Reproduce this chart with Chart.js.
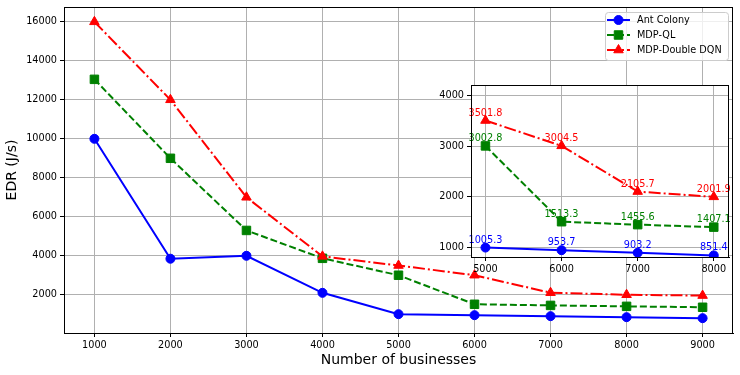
<!DOCTYPE html>
<html>
<head>
<meta charset="utf-8">
<script src="https://cdn.jsdelivr.net/npm/chart.js@4.4.1/dist/chart.umd.min.js"></script>
<style>
    html, body { margin: 0; padding: 0; background: #fff; }
    #wrap { position: relative; width: 740px; height: 375px; }
    #mainChart { position: absolute; left: 0; top: 0; }
    #insetChart { position: absolute; left: 420px; top: 78px; }
</style>
</head>
<body>
<div id="wrap">
    <canvas id="mainChart" width="740" height="375"></canvas>
    <canvas id="insetChart" width="320" height="200"></canvas>
</div>
<script>
// values
const businesses = [1000, 2000, 3000, 4000, 5000, 6000, 7000, 8000, 9000];
const antColony = [10000, 3850, 4000, 2100, 1005.3, 953.7, 903.2, 851.4, 800];
const mdpQL = [13050, 9000, 5300, 3870, 3002.8, 1513.3, 1455.6, 1407.1, 1360];
const mdpDoubleDQN = [16000, 12000, 7000, 3970, 3501.8, 3004.5, 2105.7, 2001.9, 1960];

const xTicks = [1000, 2000, 3000, 4000, 5000, 6000, 7000, 8000, 9000];
const yTicks = [2000, 4000, 6000, 8000, 10000, 12000, 14000, 16000];
const insetXTicks = [5000, 6000, 7000, 8000];
const insetYTicks = [1000, 2000, 3000, 4000];
const insetFrom = 5000;
const insetTo = 8000;

const FONT = '"DejaVu Sans"';
Chart.defaults.font.family = FONT;
Chart.defaults.color = '#000';

const series = [
    { label: 'Ant Colony', values: antColony, color: '#0000ff', dash: [], marker: 'circle', radius: 4.5, order: 2 },
    { label: 'MDP-QL', values: mdpQL, color: '#008000', dash: [7, 3], marker: 'rect', radius: 6, order: 1 },
    { label: 'MDP-Double DQN', values: mdpDoubleDQN, color: '#ff0000', dash: [12, 3, 2, 3], marker: 'triangle', radius: 5.5, order: 0 }
];

function buildDatasets(from, to) {
    return series.map(s => ({
        label: s.label,
        data: businesses.map((x, i) => ({ x: x, y: s.values[i] })).filter(p => p.x >= from && p.x <= to),
        borderColor: s.color,
        backgroundColor: s.color,
        borderWidth: 2,
        borderDash: s.dash,
        pointStyle: s.marker,
        pointRadius: s.radius,
        pointBorderWidth: 1,
        pointBackgroundColor: s.color,
        pointBorderColor: s.color,
        fill: false,
        tension: 0,
        order: s.order
    }));
}

function drawMarker(ctx, style, x, y, r) {
    ctx.beginPath();
    if (style === 'circle') {
        ctx.arc(x, y, r, 0, Math.PI * 2);
    } else if (style === 'rect') {
        const s = r * Math.SQRT1_2;
        ctx.rect(x - s, y - s, 2 * s, 2 * s);
    } else {
        ctx.moveTo(x, y - r);
        ctx.lineTo(x + r * Math.cos(Math.PI / 6), y + r / 2);
        ctx.lineTo(x - r * Math.cos(Math.PI / 6), y + r / 2);
        ctx.closePath();
    }
    ctx.fill();
    ctx.stroke();
}

function axis(min, max, tickValues, fitSize, horizontal, titleText) {
    const opts = {
        type: 'linear',
        min: min,
        max: max,
        afterBuildTicks: scale => { scale.ticks = tickValues.map(v => ({ value: v })); },
        afterFit: scale => {
            if (horizontal) scale.height = fitSize; else scale.width = fitSize;
            // labels never reach the edges, so no extra room is needed
            scale.paddingTop = 0;
            scale.paddingBottom = 0;
            scale.paddingLeft = 0;
            scale.paddingRight = 0;
        },
        grid: { color: '#b0b0b0', lineWidth: 1, drawTicks: true, tickLength: 4, tickColor: '#000', tickWidth: 1 },
        border: { display: true, color: '#000', width: 1 },
        ticks: {
            color: '#000',
            font: { family: FONT, size: 9.7 },
            padding: 3,
            maxRotation: 0,
            autoSkip: false,
            callback: v => String(v)
        }
    };
    if (titleText) {
        opts.title = {
            display: true,
            text: titleText,
            color: '#000',
            font: { family: FONT, size: 14 },
            padding: horizontal ? { top: 0, bottom: 6 } : { top: 4, bottom: 0 }
        };
    }
    return opts;
}

const frameBox = {
    id: 'frameBox',
    beforeDraw(chart) {
        const a = chart.chartArea;
        const ctx = chart.ctx;
        ctx.save();
        ctx.fillStyle = '#fff';
        ctx.fillRect(a.left, a.top, a.right - a.left, a.bottom - a.top);
        ctx.restore();
    },
    afterDraw(chart) {
        const a = chart.chartArea;
        const ctx = chart.ctx;
        ctx.save();
        ctx.strokeStyle = '#000';
        ctx.lineWidth = 1;
        const l = Math.round(a.left) + 0.5, t = Math.round(a.top) + 0.5;
        const r = Math.round(a.right) - 0.5, b = Math.round(a.bottom) + 0.5;
        ctx.strokeRect(l, t, r - l, b - t);
        ctx.restore();
    }
};

const boxLegend = {
    id: 'boxLegend',
    afterDraw(chart) {
        const a = chart.chartArea;
        const ctx = chart.ctx;
        const w = 123, h = 48;
        const x0 = a.right - 5 - w, y0 = a.top + 5;
        ctx.save();
        ctx.beginPath();
        ctx.roundRect(x0 + 0.5, y0 + 0.5, w, h, 3);
        ctx.fillStyle = 'rgba(255,255,255,0.8)';
        ctx.fill();
        ctx.strokeStyle = '#cccccc';
        ctx.lineWidth = 1;
        ctx.stroke();
        ctx.font = '9.7px ' + FONT;
        ctx.textBaseline = 'middle';
        chart.data.datasets.forEach((ds, i) => {
            const y = y0 + 8 + i * 15;
            ctx.strokeStyle = ds.borderColor;
            ctx.lineWidth = ds.borderWidth;
            ctx.setLineDash(ds.borderDash);
            ctx.beginPath();
            ctx.moveTo(x0 + 2, y);
            ctx.lineTo(x0 + 25, y);
            ctx.stroke();
            ctx.setLineDash([]);
            ctx.lineWidth = 1;
            ctx.fillStyle = ds.pointBackgroundColor;
            drawMarker(ctx, ds.pointStyle, x0 + 13.5, y, ds.pointRadius);
            ctx.fillStyle = '#000';
            ctx.fillText(ds.label, x0 + 32, y + 0.5);
        });
        ctx.restore();
    }
};

const pointValues = {
    id: 'pointValues',
    afterDatasetsDraw(chart) {
        const ctx = chart.ctx;
        ctx.save();
        ctx.font = '9.7px ' + FONT;
        ctx.textAlign = 'center';
        ctx.textBaseline = 'alphabetic';
        chart.data.datasets.forEach((ds, i) => {
            const meta = chart.getDatasetMeta(i);
            ctx.fillStyle = ds.borderColor;
            meta.data.forEach((pt, j) => {
                ctx.fillText(ds.data[j].y.toFixed(1), pt.x, pt.y - 5);
            });
        });
        ctx.restore();
    }
};

const commonOptions = {
    responsive: false,
    animation: false,
    events: [],
    plugins: { legend: { display: false }, tooltip: { enabled: false } }
};

new Chart(document.getElementById('mainChart').getContext('2d'), {
    type: 'line',
    data: { datasets: buildDatasets(-Infinity, Infinity) },
    options: Object.assign({}, commonOptions, {
        layout: { padding: { left: 0, top: 7, right: 7, bottom: 0 } },
        scales: {
            x: axis(600, 9400, xTicks, 42, true, 'Number of businesses'),
            y: axis(40, 16760, yTicks, 64, false, 'EDR (J/s)')
        }
    }),
    plugins: [frameBox, boxLegend]
});

new Chart(document.getElementById('insetChart').getContext('2d'), {
    type: 'line',
    data: { datasets: buildDatasets(insetFrom, insetTo) },
    options: Object.assign({}, commonOptions, {
        layout: { padding: { left: 0, top: 7, right: 11, bottom: 0 } },
        scales: {
            x: axis(4810, 8200, insetXTicks, 21, true, null),
            y: axis(820, 4200, insetYTicks, 51, false, null)
        }
    }),
    plugins: [frameBox, pointValues]
});
</script>
</body>
</html>
